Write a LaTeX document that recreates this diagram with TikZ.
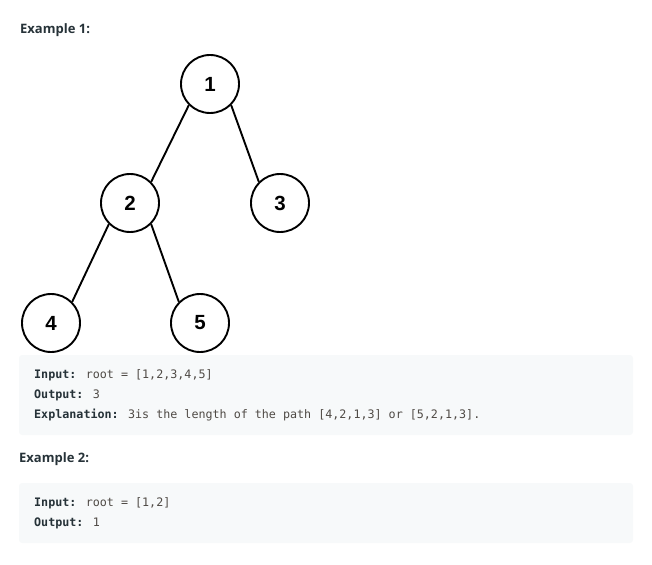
\documentclass[tikz,border=0pt]{standalone}
\usepackage{fontspec}
\setmainfont{Open Sans}
\newfontfamily\treefont{Liberation Sans}
\newfontfamily\codefont{DejaVu Sans Mono}
\usepackage{tikz}
\usetikzlibrary{positioning}

\definecolor{boxgray}{HTML}{F7F9FA}
\definecolor{labeltext}{HTML}{263238}
\definecolor{valtext}{HTML}{4F4A45}

\begin{document}
\begin{tikzpicture}[x=1pt, y=-1pt, node distance=3cm, on grid,
    treenode/.style={circle, draw, line width=1.9pt, minimum size=58pt, inner sep=0pt, font=\treefont\fontsize{20.5}{20}\bfseries\selectfont},
    heading/.style={anchor=west, inner sep=0pt, text=labeltext, font=\fontsize{13}{13}\bfseries\selectfont},
    codeline/.style={anchor=west, inner sep=0pt, text=valtext, font=\codefont\fontsize{11.7}{12}\selectfont},
    codebox/.style={fill=boxgray, rounded corners=3pt}]
        \useasboundingbox (0,0) rectangle (652,564);
        % Example 1: the tree
        \node[heading] (ex1) at (20,30) {Example 1:};
        \node[treenode] (n1) at (210,84) {1};
        \node[treenode] (n2) [below left=119pt and 80pt of n1] {2};
        \node[treenode] (n3) [below right=119pt and 70pt of n1] {3};
        \node[treenode] (n4) [below left=120pt and 79pt of n2] {4};
        \node[treenode] (n5) [below right=120pt and 70pt of n2] {5};
        \draw[line width=1.9pt]
        (n1.225) -- (n2.45)
        (n1.-45) -- (n3.135)
        (n2.225) -- (n4.45)
        (n2.-45) -- (n5.135);
        % first code box
        \fill[codebox] (19,355) rectangle (633,435);
        \node[codeline] (in1) at (34,375) {\textcolor{labeltext}{\bfseries Input:} root = [1,2,3,4,5]};
        \node[codeline] (out1) at (34,395) {\textcolor{labeltext}{\bfseries Output:} 3};
        \node[codeline] (expl) at (34,415) {\textcolor{labeltext}{\bfseries Explanation:} 3is the length of the path [4,2,1,3] or [5,2,1,3].};
        % Example 2
        \node[heading] (ex2) at (19,459) {Example 2:};
        \fill[codebox] (19,483) rectangle (633,543);
        \node[codeline] (in2) at (34,503) {\textcolor{labeltext}{\bfseries Input:} root = [1,2]};
        \node[codeline] (out2) at (34,523) {\textcolor{labeltext}{\bfseries Output:} 1};
    \end{tikzpicture}
\end{document}
